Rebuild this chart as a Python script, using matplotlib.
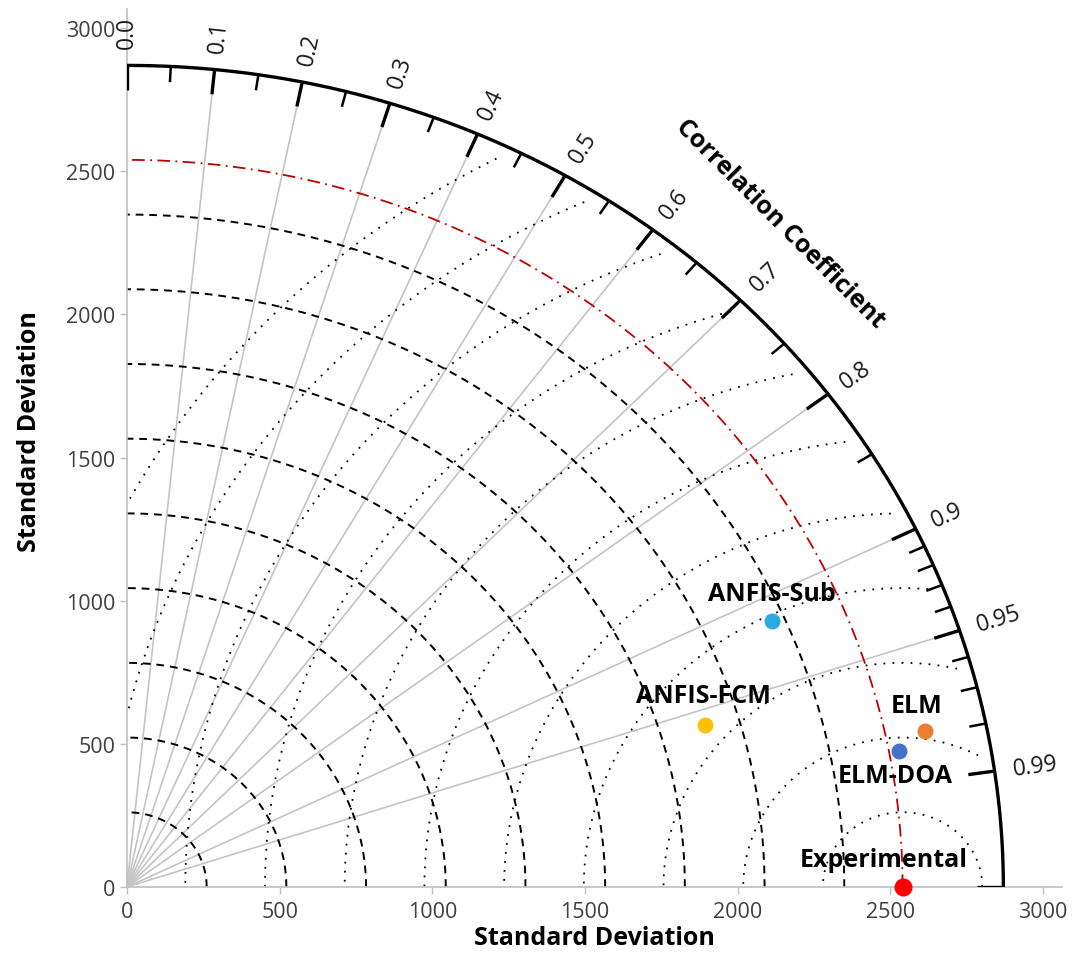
import numpy as np
import matplotlib
matplotlib.use("Agg")
import matplotlib.pyplot as plt

plt.rcParams["font.family"] = ["Open Sans", "DejaVu Sans"]

# model statistics against the measured series
models = ["ANFIS-Sub", "ANFIS-FCM", "ELM", "ELM-DOA"]
model_std = [2308, 1977, 2670, 2573]
model_corr = [0.9155, 0.958, 0.979, 0.9828]
model_colors = ["#29ABE2", "#FFC000", "#ED7D31", "#4472C4"]

ref_name = "Experimental"
ref_std = 2540

# correlation scale on the outer arc
corr_major = [0.0, 0.1, 0.2, 0.3, 0.4, 0.5, 0.6, 0.7, 0.8, 0.9, 0.95, 0.99, 1.0]
corr_labels = ["0.0", "0.1", "0.2", "0.3", "0.4", "0.5", "0.6", "0.7", "0.8",
               "0.9", "0.95", "0.99", ""]
corr_minor = [0.05, 0.15, 0.25, 0.35, 0.45, 0.55, 0.65, 0.75, 0.85,
              0.91, 0.92, 0.93, 0.94, 0.96, 0.97, 0.98]
corr_rays = [0.1, 0.2, 0.3, 0.4, 0.5, 0.6, 0.7, 0.8, 0.9, 0.95]

r_max = 2870
std_rings = [261, 522, 783, 1044, 1305, 1566, 1827, 2088, 2349]
rms_rings = [261, 522, 783, 1044, 1305, 1566, 1827, 2088, 2349, 2610, 2871]
std_ticks = [0, 500, 1000, 1500, 2000, 2500, 3000]


def polar_xy(r, corr):
    th = np.arccos(np.asarray(corr))
    return r * np.cos(th), r * np.sin(th)


fig = plt.figure(figsize=(10.75, 9.54), dpi=100)
ax = fig.add_axes([0.1181, 0.0692, 0.8698, 0.9203])
ax.set_xlim(0, 3062)
ax.set_ylim(0, 3067)

for s in ["top", "right"]:
    ax.spines[s].set_visible(False)
for s in ["left", "bottom"]:
    ax.spines[s].set_color("#BFBFBF")
    ax.spines[s].set_linewidth(1.2)
ax.set_xticks(std_ticks)
ax.set_yticks(std_ticks)
ax.tick_params(colors="#BFBFBF", labelcolor="#404040", labelsize=15.5,
               length=5, width=1)
ax.tick_params(axis="x", pad=5)
ax.set_xlabel("Standard Deviation", fontsize=18, fontweight="bold", labelpad=2)
ax.set_ylabel("Standard Deviation", fontsize=18, fontweight="bold")
ax.yaxis.set_label_coords(-0.091, 0.52)

th = np.linspace(0, np.pi / 2, 400)

# grey correlation rays
for c in corr_rays:
    x, y = polar_xy(np.array([0, r_max - 87]), c)
    ax.plot(x, y, color="#C4C4C4", lw=1.2, zorder=1)

# standard deviation rings around the origin
for r in std_rings:
    ax.plot(r * np.cos(th), r * np.sin(th), color="black", lw=1.4,
            ls=(0, (4, 3)), zorder=2)

# centred RMS difference rings around the reference point
phi = np.linspace(0, np.pi, 800)
for r in rms_rings:
    x = ref_std + r * np.cos(phi)
    y = r * np.sin(phi)
    keep = (x >= 0) & (np.hypot(x, y) <= 2825)
    x = np.where(keep, x, np.nan)
    y = np.where(keep, y, np.nan)
    ax.plot(x, y, color="black", lw=1.3, ls=(0, (1, 4)), zorder=2)

# reference standard deviation arc
ax.plot(ref_std * np.cos(th), ref_std * np.sin(th), color="#C00000", lw=1.3,
        ls=(0, (7, 3, 1, 3)), zorder=3)

# outer arc with correlation ticks
ax.plot(r_max * np.cos(th), r_max * np.sin(th), color="black", lw=2.4,
        zorder=4, solid_capstyle="butt")
for c in corr_major:
    x, y = polar_xy(np.array([r_max - 87, r_max]), c)
    ax.plot(x, y, color="black", lw=2.4, zorder=4, solid_capstyle="butt")
for c in corr_minor:
    x, y = polar_xy(np.array([r_max - 55, r_max]), c)
    ax.plot(x, y, color="black", lw=1.8, zorder=4, solid_capstyle="butt")


def screen_angle(x, y, dx, dy):
    p0 = ax.transData.transform((x, y))
    p1 = ax.transData.transform((x + dx, y + dy))
    return np.degrees(np.arctan2(p1[1] - p0[1], p1[0] - p0[0]))


for c, lab in zip(corr_major, corr_labels):
    if not lab:
        continue
    x, y = polar_xy(2930, c)
    ang = screen_angle(x, y, x * 0.01, y * 0.01)
    ax.text(x, y, lab, rotation=ang, rotation_mode="anchor", ha="left",
            va="center", fontsize=16.5, color="#1A1A1A", zorder=5)

cx, cy = 2138, 2319
ax.text(cx, cy, "Correlation Coefficient", rotation=-45, rotation_mode="anchor",
        ha="center", va="center", fontsize=18, fontweight="bold", zorder=5)

# model points
label_offsets = [(0, 20), (-1, 21), (-6.5, 18.5), (-3, -17.5)]
for name, s, c, col, off in zip(models, model_std, model_corr, model_colors,
                                label_offsets):
    x, y = polar_xy(s, c)
    ax.plot(x, y, "o", ms=11.5, color=col, mec="none", zorder=6)
    ax.annotate(name, (x, y), xytext=off, textcoords="offset points",
                ha="center", va="center", fontsize=18, fontweight="bold",
                zorder=7)

ax.plot(ref_std, 0, "o", ms=13, color="#FF0000", mec="none", zorder=6,
        clip_on=False)
ax.annotate(ref_name, (ref_std, 0), xytext=(-13.5, 20),
            textcoords="offset points", ha="center", va="center",
            fontsize=18, fontweight="bold", zorder=7)

fig.savefig("out.png", dpi=100)
